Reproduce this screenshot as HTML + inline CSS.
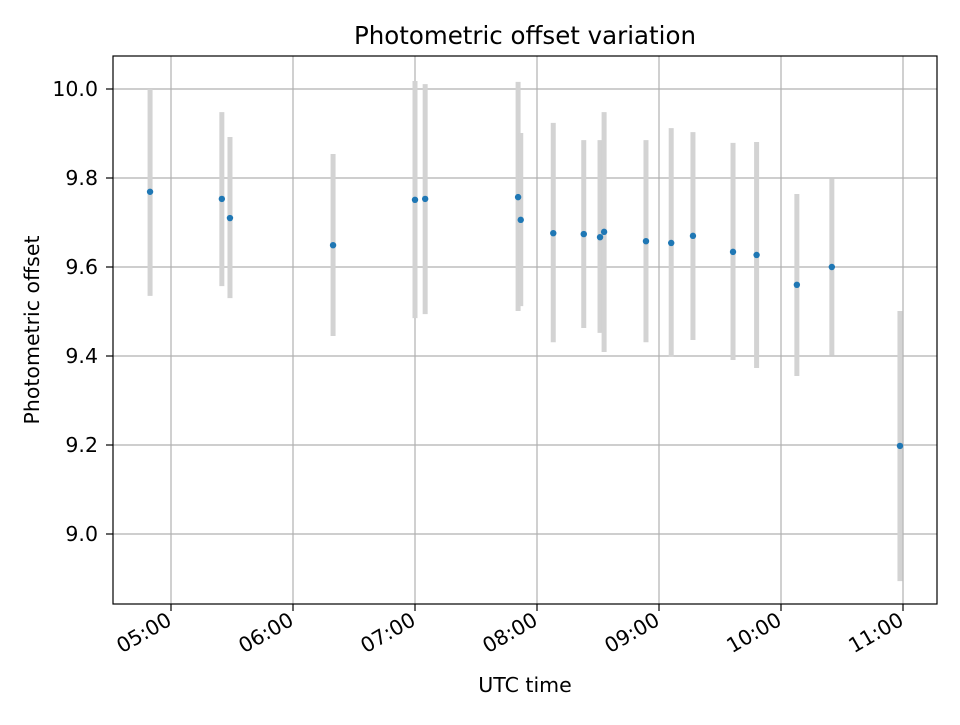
<!DOCTYPE html>
<html><head><meta charset="utf-8"><style>
body{margin:0;background:#fff}
svg text{font-family:"DejaVu Sans","Liberation Sans",sans-serif;fill:#000}
</style></head><body>
<svg id="chart" width="960" height="720" xmlns="http://www.w3.org/2000/svg">
<rect width="960" height="720" fill="#fff"/>
<g id="grid"></g>
<g id="errs"></g>
<g id="pts"></g>
<rect x="113" y="56" width="824" height="548" fill="none" stroke="#000" stroke-width="1.2"/>
<g id="ticks"></g>
<text x="525" y="44" font-size="24.5" text-anchor="middle">Photometric offset variation</text>
<text x="525" y="692" font-size="20.5" text-anchor="middle">UTC time</text>
<text x="39" y="330" font-size="20.5" text-anchor="middle" transform="rotate(-90 39 330)">Photometric offset</text>
</svg>
<script>
const times=[289.7,325,329,379.7,420,425,470.7,472,488,503,511,513,533.6,546,556.7,576.4,588,607.8,625,658.5];
const values=[9.769,9.753,9.710,9.649,9.751,9.753,9.757,9.706,9.676,9.674,9.667,9.679,9.658,9.654,9.670,9.634,9.627,9.560,9.600,9.198];
const lows=[9.535,9.557,9.530,9.445,9.485,9.494,9.501,9.512,9.431,9.463,9.452,9.409,9.431,9.398,9.436,9.391,9.373,9.355,9.402,8.894];
const highs=[10.0,9.948,9.892,9.854,10.018,10.011,10.016,9.901,9.924,9.885,9.885,9.948,9.885,9.912,9.903,9.879,9.881,9.764,9.798,9.501];
const xTicks=[300,360,420,480,540,600,660];
const xTickLabels=["05:00","06:00","07:00","08:00","09:00","10:00","11:00"];
const yTicks=[9.0,9.2,9.4,9.6,9.8,10.0];
const yTickLabels=["9.0","9.2","9.4","9.6","9.8","10.0"];
const NS="http://www.w3.org/2000/svg";
const xs=t=>171+(t-300)*122/60;
const ys=v=>89+(10-v)*445;
function mk(tag,attrs,parent){const e=document.createElementNS(NS,tag);for(const k in attrs)e.setAttribute(k,attrs[k]);parent.appendChild(e);return e;}
const grid=document.getElementById('grid'),ticks=document.getElementById('ticks'),errs=document.getElementById('errs'),pts=document.getElementById('pts');
xTicks.forEach((t,i)=>{const x=xs(t);
 let g=mk('line',{x1:x,x2:x,y1:56,y2:604,stroke:'#b0b0b0','stroke-width':1.2},grid);
 
 let tk=mk('line',{x1:x,x2:x,y1:604,y2:611,stroke:'#000','stroke-width':1.2},ticks);
 
 let lb=mk('text',{x:x+2,y:624,'font-size':20.5,'text-anchor':'end',transform:`rotate(-30 ${x+2} 624)`},ticks);
 lb.textContent=xTickLabels[i];
 });
yTicks.forEach((v,i)=>{const y=ys(v);
 let g=mk('line',{x1:113,x2:937,y1:y,y2:y,stroke:'#b0b0b0','stroke-width':1.2},grid);
 
 let tk=mk('line',{x1:106,x2:113,y1:y,y2:y,stroke:'#000','stroke-width':1.2},ticks);
 
 let lb=mk('text',{x:98,y:y+7,'font-size':20.5,'text-anchor':'end'},ticks);
 lb.textContent=yTickLabels[i];
 });
times.forEach((t,i)=>{const x=xs(t);
 let e=mk('line',{x1:x,x2:x,y1:ys(highs[i]),y2:ys(lows[i]),stroke:'#d3d3d3','stroke-width':5},errs);
 
 let p=mk('circle',{cx:x,cy:ys(values[i]),r:3.2,fill:'#1f77b4'},pts);
 });
</script>
</body></html>
